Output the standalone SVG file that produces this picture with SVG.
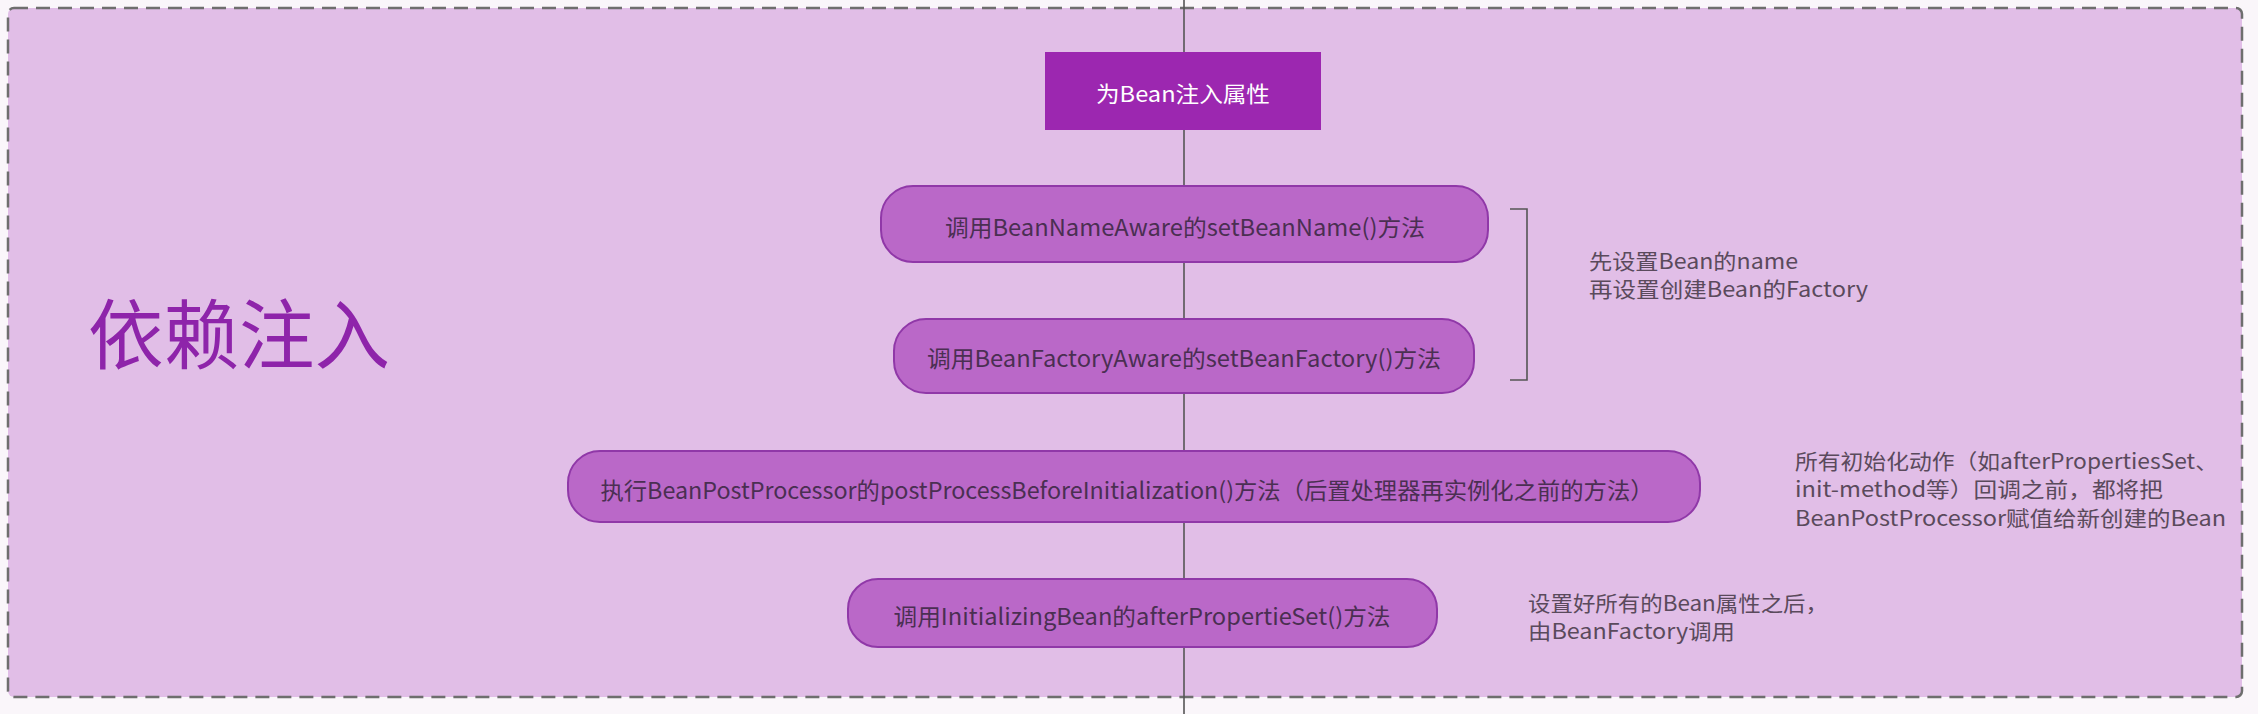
<svg xmlns="http://www.w3.org/2000/svg" width="2258" height="714" viewBox="0 0 2258 714">
<style>
text{font-family:"Noto Sans CJK SC","Liberation Sans",sans-serif;dominant-baseline:central}
.pill{fill:#BA68C8;stroke:#9038A8;stroke-width:2}
.pt{font-size:23px;fill:#4A2F52;text-anchor:middle}
.note{font-size:21px;fill:#5A4A5C}
.conn{stroke:#555;stroke-width:1.6;fill:none}
</style>
<rect x="0" y="0" width="2258" height="714" fill="#FAF6FA"/>
<rect x="8" y="8" width="2234" height="689" rx="6" fill="#E1BEE7" stroke="#6E6E6E" stroke-width="2.5" stroke-dasharray="14 8"/>
<g id="connectors">
<line class="conn" x1="1184" y1="0" x2="1184" y2="714"/>
<path class="conn" d="M1510,209 H1527 V380 H1510" stroke-width="2"/>
</g>
<g id="title">
<text x="88" y="330" font-size="76" fill="#8E24AA" textLength="302" lengthAdjust="spacingAndGlyphs">依赖注入</text>
</g>
<g id="node-inject">
<rect x="1045" y="52" width="276" height="78" fill="#9C27B0"/>
<text x="1096" y="92" font-size="22" fill="#FFFFFF" textLength="174" lengthAdjust="spacingAndGlyphs">为Bean注入属性</text>
</g>
<g id="node-beanname">
<rect class="pill" x="881" y="186" width="607" height="76" rx="32"/>
<text class="pt" x="1185" y="226" textLength="480" lengthAdjust="spacingAndGlyphs">调用BeanNameAware的setBeanName()方法</text>
</g>
<g id="node-beanfactory">
<rect class="pill" x="894" y="319" width="580" height="74" rx="32"/>
<text class="pt" x="1184" y="357" textLength="514" lengthAdjust="spacingAndGlyphs">调用BeanFactoryAware的setBeanFactory()方法</text>
</g>
<g id="node-postprocessor">
<rect class="pill" x="568" y="451" width="1132" height="71" rx="32"/>
<text class="pt" x="1127" y="489" textLength="1053" lengthAdjust="spacingAndGlyphs">执行BeanPostProcessor的postProcessBeforeInitialization()方法（后置处理器再实例化之前的方法）</text>
</g>
<g id="node-initializing">
<rect class="pill" x="848" y="579" width="589" height="68" rx="30"/>
<text class="pt" x="1142" y="615" textLength="497" lengthAdjust="spacingAndGlyphs">调用InitializingBean的afterPropertieSet()方法</text>
</g>
<g id="note-aware">
<text class="note" x="1589" y="260" textLength="209" lengthAdjust="spacingAndGlyphs">先设置Bean的name</text>
<text class="note" x="1589" y="288" textLength="279" lengthAdjust="spacingAndGlyphs">再设置创建Bean的Factory</text>
</g>
<g id="note-postprocessor">
<text class="note" x="1795" y="460" textLength="423" lengthAdjust="spacingAndGlyphs">所有初始化动作（如afterPropertiesSet、</text>
<text class="note" x="1795" y="488" textLength="368" lengthAdjust="spacingAndGlyphs">init-method等）回调之前，都将把</text>
<text class="note" x="1795" y="517" textLength="431" lengthAdjust="spacingAndGlyphs">BeanPostProcessor赋值给新创建的Bean</text>
</g>
<g id="note-initializing">
<text class="note" x="1528" y="602" textLength="300" lengthAdjust="spacingAndGlyphs">设置好所有的Bean属性之后，</text>
<text class="note" x="1528" y="630" textLength="207" lengthAdjust="spacingAndGlyphs">由BeanFactory调用</text>
</g>
</svg>
